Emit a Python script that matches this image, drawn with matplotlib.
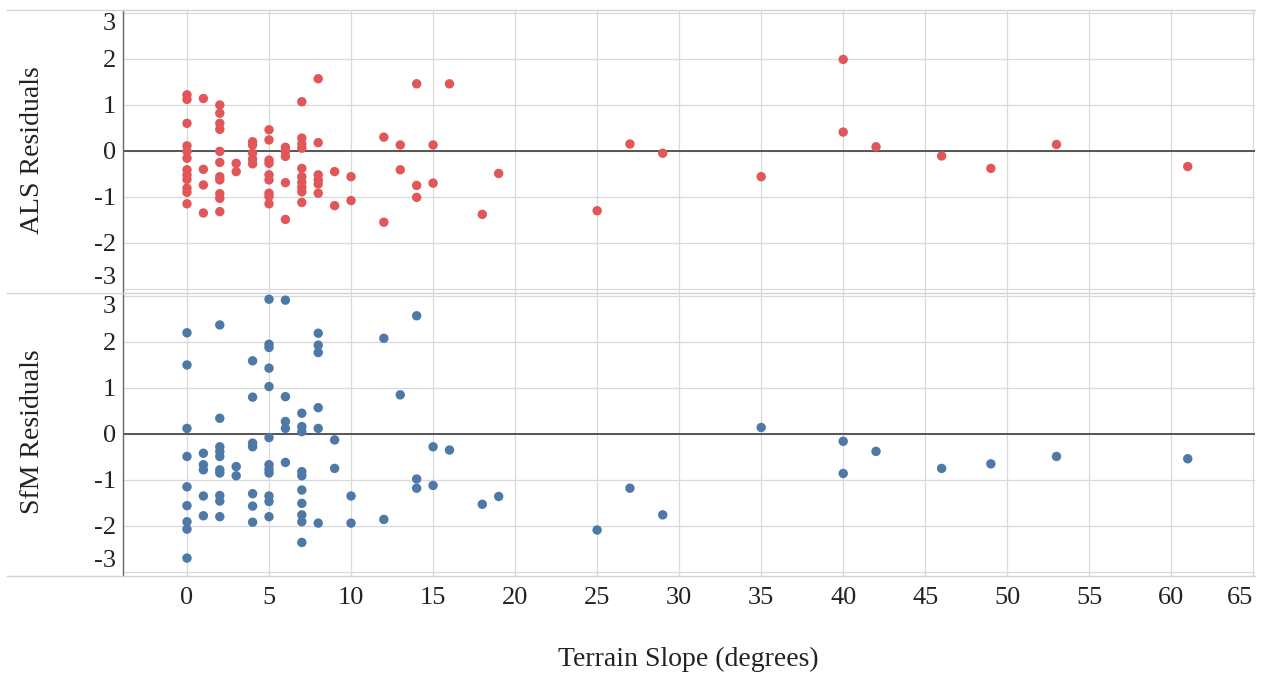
import matplotlib
matplotlib.use("Agg")
import matplotlib.pyplot as plt
from matplotlib.lines import Line2D

plt.rcParams['font.family'] = ['Liberation Serif', 'DejaVu Serif']

# ALS residuals vs terrain slope
als_slope = [0, 0, 0, 0, 0, 0, 0, 0, 0, 0, 0, 0,
             1, 1, 1, 1,
             2, 2, 2, 2, 2, 2, 2, 2, 2, 2, 2,
             3, 3,
             4, 4, 4, 4, 4,
             5, 5, 5, 5, 5, 5, 5, 5, 5,
             6, 6, 6, 6, 6,
             7, 7, 7, 7, 7, 7, 7, 7, 7, 7,
             8, 8, 8, 8, 8, 8,
             9, 9, 10, 10, 12, 12, 13, 13, 14, 14, 14, 15, 15, 16, 18, 19,
             25, 27, 29, 35, 40, 40, 42, 46, 49, 53, 61]
als_resid = [1.22, 1.12, 0.60, 0.11, -0.01, -0.16, -0.41, -0.52, -0.62, -0.81, -0.90, -1.15,
             1.14, -0.40, -0.74, -1.35,
             1.00, 0.82, 0.60, 0.47, -0.01, -0.25, -0.56, -0.63, -0.93, -1.03, -1.32,
             -0.27, -0.45,
             0.20, 0.13, -0.05, -0.18, -0.28,
             0.46, 0.24, -0.20, -0.27, -0.52, -0.63, -0.92, -0.99, -1.15,
             0.08, -0.01, -0.12, -0.69, -1.49,
             1.07, 0.28, 0.15, 0.06, -0.38, -0.56, -0.68, -0.79, -0.89, -1.12,
             1.57, 0.18, -0.52, -0.63, -0.72, -0.92,
             -0.45, -1.19, -0.56, -1.08, 0.30, -1.55, 0.13, -0.41, 1.46, -0.75, -1.01,
             0.13, -0.70, 1.46, -1.38, -0.49,
             -1.30, 0.15, -0.05, -0.56, 1.99, 0.41, 0.09, -0.11, -0.38, 0.14, -0.34]

# SfM residuals vs terrain slope
sfm_slope = [0, 0, 0, 0, 0, 0, 0, 0, 0, 0,
             1, 1, 1, 1, 1,
             2, 2, 2, 2, 2, 2, 2, 2, 2, 2,
             3, 3,
             4, 4, 4, 4, 4, 4, 4,
             5, 5, 5, 5, 5, 5, 5, 5, 5, 5, 5, 5,
             6, 6, 6, 6, 6,
             7, 7, 7, 7, 7, 7, 7, 7, 7, 7,
             8, 8, 8, 8, 8, 8,
             9, 9, 10, 10, 12, 12, 13, 14, 14, 14, 15, 15, 16, 18, 19,
             25, 27, 29, 35, 40, 40, 42, 46, 49, 53, 61]
sfm_resid = [3.15, 2.20, 1.50, 0.12, -0.49, -1.15, -1.56, -1.91, -2.07, -2.70,
             -0.42, -0.67, -0.78, -1.35, -1.78,
             2.37, 0.34, -0.28, -0.38, -0.49, -0.78, -0.85, -1.34, -1.46, -1.80,
             -0.71, -0.91,
             1.59, 0.80, -0.20, -0.28, -1.30, -1.57, -1.92,
             2.93, 1.95, 1.88, 1.43, 1.03, -0.08, -0.67, -0.77, -0.85, -1.35, -1.47, -1.80,
             2.91, 0.81, 0.27, 0.12, -0.62,
             0.45, 0.16, 0.05, -0.82, -0.91, -1.22, -1.51, -1.76, -1.91, -2.36,
             2.19, 1.93, 1.77, 0.57, 0.12, -1.94,
             -0.13, -0.75, -1.35, -1.94, 2.08, -1.86, 0.85, 2.57, -0.98, -1.18,
             -0.28, -1.12, -0.35, -1.53, -1.36,
             -2.09, -1.18, -1.76, 0.14, -0.16, -0.86, -0.38, -0.75, -0.65, -0.49, -0.54]

x_ticks = [0, 5, 10, 15, 20, 25, 30, 35, 40, 45, 50, 55, 60, 65]
y_ticks = [-3, -2, -1, 0, 1, 2, 3]
y_labels = ['-3', '-2', '-1', '0', '1', '2', '3']

W, H = 1266, 676
fig = plt.figure(figsize=(W / 100, H / 100), dpi=100)

left = 123 / W
width = (1255 - 123) / W
ph = 283 / H
ax1 = fig.add_axes([left, 1 - 293 / H, width, ph])
ax2 = fig.add_axes([left, 1 - 576 / H, width, ph])

for ax, xs, ys, col in [(ax1, als_slope, als_resid, '#e15759'),
                        (ax2, sfm_slope, sfm_resid, '#4e79a7')]:
    ax.scatter(xs, ys, s=46, color=col, edgecolors='none', zorder=3)
    ax.axhline(0, color='#555555', lw=1.4, zorder=2)
    ax.set_xlim(-3.9, 65.1)
    ax.set_ylim(-3.09, 3.065)
    ax.set_xticks(x_ticks)
    ax.set_yticks(y_ticks)
    ax.set_yticklabels(y_labels)
    ax.grid(True, color='#d9d9d9', lw=0.9, zorder=0)
    ax.set_axisbelow(True)
    for s in ['top', 'right', 'bottom']:
        ax.spines[s].set_visible(False)
    ax.spines['left'].set_color('#666666')
    ax.spines['left'].set_linewidth(1.0)
    ax.tick_params(length=0, labelsize=19, colors='#222222', pad=5)
    ax.tick_params(axis='x', pad=8)
    ylbl = ax.get_yticklabels()
    ylbl[0].set_va('bottom')
    ylbl[-1].set_va('top')

ax1.tick_params(axis='x', labelbottom=False)
xl = ax2.get_xticklabels()
xl[-1].set_ha('right')

# row dividers spanning the header area
for ypx in [10, 293, 576]:
    fig.add_artist(Line2D([7 / W, 1255 / W], [1 - ypx / H, 1 - ypx / H],
                          color='#d4d4d4', lw=1.0))

fig.text(33 / W, 1 - 150 / H, 'ALS Residuals', rotation=90, fontsize=20,
         ha='center', va='center', color='#222222')
fig.text(33 / W, 1 - 432 / H, 'SfM Residuals', rotation=90, fontsize=20,
         ha='center', va='center', color='#222222')
fig.text(688 / W, 1 - 659 / H, 'Terrain Slope (degrees)', fontsize=20,
         ha='center', va='center', color='#222222')

fig.savefig('out.png', dpi=100)
